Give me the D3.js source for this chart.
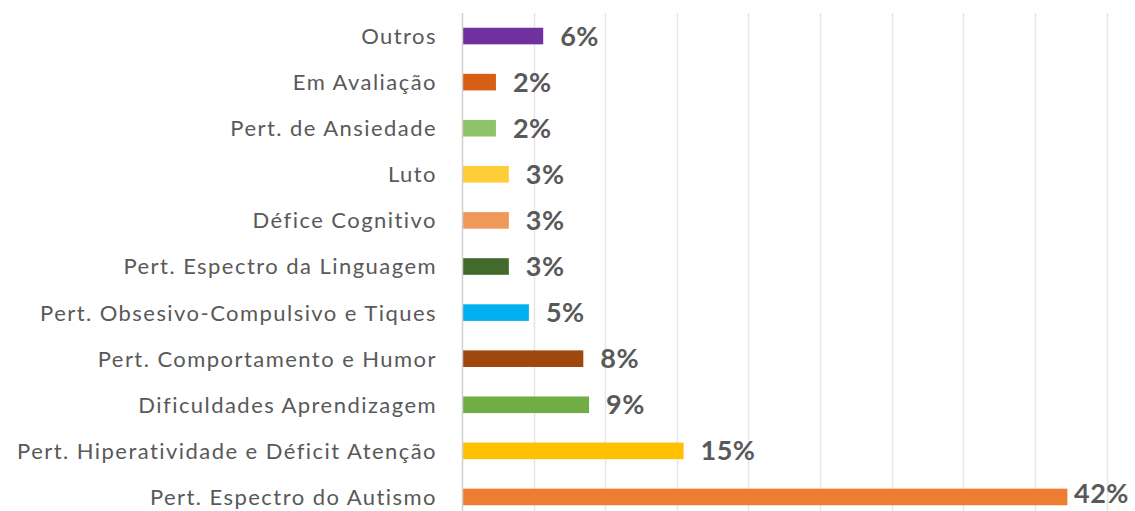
<!DOCTYPE html>
<html>
<head>
<meta charset="utf-8">
<script src="https://cdn.jsdelivr.net/npm/d3@7"></script>
<style>
    body { margin: 0; background: #fff; }
    .cat { font-family: Lato, "Open Sans", sans-serif; font-size: 22px; letter-spacing: 1.45px; fill: #595959; }
    .val { font-family: Lato, "Open Sans", sans-serif; font-size: 27px; font-weight: bold; letter-spacing: 0.5px; fill: #595959; }
</style>
</head>
<body>
<svg width="1135" height="511"></svg>
<script>

var margin = { top: 13, right: 27, bottom: -9, left: 462 }
    , width = 1135 - margin.left - margin.right
    , height = 511 - margin.top - margin.bottom;

// categories from top to bottom
var categories = [
    "Outros",
    "Em Avaliação",
    "Pert. de Ansiedade",
    "Luto",
    "Défice Cognitivo",
    "Pert. Espectro da Linguagem",
    "Pert. Obsesivo-Compulsivo e Tiques",
    "Pert. Comportamento e Humor",
    "Dificuldades Aprendizagem",
    "Pert. Hiperatividade e Déficit Atenção",
    "Pert. Espectro do Autismo"
];

// percentages
var values = [5.6, 2.3, 2.3, 3.2, 3.2, 3.2, 4.6, 8.4, 8.8, 15.4, 42.2];

var valueLabels = ["6%", "2%", "2%", "3%", "3%", "3%", "5%", "8%", "9%", "15%", "42%"];

var barColors = [
    "#7030a0", "#d65f15", "#8ec36a", "#ffcd38", "#f0975a", "#416a2c",
    "#00b0f0", "#9e480e", "#70ad47", "#ffc000", "#ed7d31"
];

var gridTicks = [0, 5, 10, 15, 20, 25, 30, 35, 40, 45];

var data = categories.map(function (c, i) {
    return { cat: c, value: values[i], label: valueLabels[i], color: barColors[i] };
});

var x = d3.scaleLinear()
    .domain([0, 45])
    .range([0, width - 1.5]);

var y = d3.scaleBand()
    .domain(categories)
    .range([0, height])
    .paddingInner(0.64)
    .paddingOuter(0.32);

var svg = d3.select("svg")
    .append("g")
    .attr("transform", "translate(" + margin.left + "," + margin.top + ")");

// gridlines
svg.append("g")
    .selectAll("line")
    .data(gridTicks.slice(1))
    .enter()
    .append("line")
    .attr("x1", function (d) { return Math.round(x(d)) + 0.5; })
    .attr("x2", function (d) { return Math.round(x(d)) + 0.5; })
    .attr("y1", 0)
    .attr("y2", height)
    .attr("stroke", "#e6e6e6")
    .attr("stroke-width", 1.5);

// bars
svg.append("g")
    .selectAll("rect")
    .data(data)
    .enter()
    .append("rect")
    .attr("x", 1)
    .attr("y", function (d) { return y(d.cat); })
    .attr("width", function (d) { return x(d.value); })
    .attr("height", y.bandwidth())
    .attr("fill", function (d) { return d.color; });

// axis line
svg.append("line")
    .attr("x1", 0.5).attr("x2", 0.5)
    .attr("y1", 0).attr("y2", height)
    .attr("stroke", "#cfcfcf")
    .attr("stroke-width", 1.5);

// category labels
svg.append("g")
    .selectAll("text")
    .data(data)
    .enter()
    .append("text")
    .attr("class", "cat")
    .attr("x", -25)
    .attr("y", function (d) { return y(d.cat) + y.bandwidth() / 2; })
    .attr("dy", "0.36em")
    .attr("text-anchor", "end")
    .text(function (d) { return d.cat; });

// value labels, pushed back inside if they'd run off the right/bottom edge
var bottomLimit = 511 - margin.top - 8;
svg.append("g")
    .selectAll("text")
    .data(data)
    .enter()
    .append("text")
    .attr("class", "val")
    .attr("y", function (d) { return Math.min(y(d.cat) + y.bandwidth() / 2 + 9.5, bottomLimit); })
    .text(function (d) { return d.label; })
    .attr("x", function (d) {
        var w = this.getComputedTextLength();
        return Math.min(x(d.value) + 18, width + margin.right - 6 - w);
    });

</script>
</body>
</html>
